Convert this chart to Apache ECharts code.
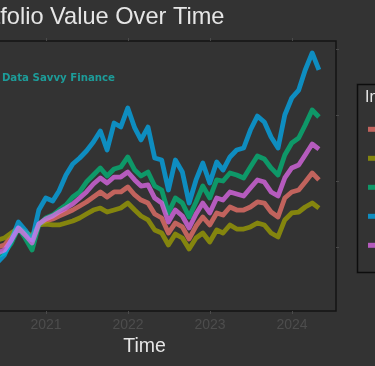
<!DOCTYPE html>
<html><head><meta charset="utf-8">
<script src="https://cdn.jsdelivr.net/npm/echarts@6/dist/echarts.min.js"></script>
<style>
html,body{margin:0;padding:0;background:#333333;overflow:hidden;width:375px;height:366px}
#wrap{position:absolute;left:0;top:0;width:375px;height:366px;overflow:hidden;background:#333333}
#chart{position:absolute;left:-100px;top:0;width:600px;height:366px}
</style>
</head><body><div id="wrap"><div id="chart"></div></div>
<script>
// Month-end observations, 2020-01 .. 2024-04
const months = [
 '2020-01','2020-02','2020-03','2020-04','2020-05','2020-06','2020-07','2020-08','2020-09','2020-10','2020-11','2020-12',
 '2021-01','2021-02','2021-03','2021-04','2021-05','2021-06','2021-07','2021-08','2021-09','2021-10','2021-11','2021-12',
 '2022-01','2022-02','2022-03','2022-04','2022-05','2022-06','2022-07','2022-08','2022-09','2022-10','2022-11','2022-12',
 '2023-01','2023-02','2023-03','2023-04','2023-05','2023-06','2023-07','2023-08','2023-09','2023-10','2023-11','2023-12',
 '2024-01','2024-02','2024-03','2024-04'
];
const seriesNames = ['Balanced','Conservative','Growth','Innovation','Moderate Growth'];
const balanced = [10000,9300,8100,9200,10000,10150,10760,11440,10980,10530,11740,11970,12120,12350,12580,12800,13110,13410,13790,14170,13790,14170,14170,14550,13940,13560,13330,12500,12200,11060,11820,11520,10610,11590,12270,11670,12580,12420,13030,12800,12800,13030,13410,13330,12650,12270,13710,14170,14320,14920,15610,15080];
const conservative = [10000,9600,8900,9900,10530,10680,11060,11440,11140,10830,11670,11740,11670,11670,11820,11970,12200,12500,12800,12950,12650,12800,12950,13330,12800,12350,12050,11290,11060,10150,10980,10680,9850,10680,11060,10380,11290,11060,11670,11360,11360,11520,11820,11670,11060,10760,12050,12580,12650,13030,13330,12950];
const growth = [10000,8900,6900,8300,9320,9550,10300,11440,10680,9770,11670,12200,12420,12800,13180,13790,14170,14920,15450,15990,15380,15910,16060,16820,15830,15380,15680,14620,14320,12580,13710,13330,12270,13410,14620,13710,15080,15000,15610,15450,15230,16060,16890,16670,15990,15450,16970,17880,18260,19240,20380,19850];
const innovation = [10000,8700,6100,7800,8860,9390,10530,11890,11290,10530,12800,13710,13490,14240,15450,16290,16740,17270,17950,18790,17350,19390,19090,20530,19020,18110,19090,16740,16590,14320,16590,15680,13330,15080,16360,14850,16440,15830,16820,17350,17500,18860,19920,19470,18330,17500,20000,21290,21890,23410,24700,23410];
const moderateGrowth = [10000,9100,7500,8700,9550,9770,10530,11440,10910,10300,11740,12120,12350,12650,12950,13260,13710,14170,14770,15230,14850,15300,15300,15680,15080,14620,14700,13710,13330,11890,12800,12350,11440,12500,13330,12580,13710,13560,14170,14020,13860,14470,15080,14920,14170,13860,15230,15990,16210,16970,17800,17420];
const xTickYears = [2021, 2022, 2023, 2024];
const yTickValues = [10000, 15000, 20000, 25000];
const colors = ['#F8766D','#A3A500','#00BF7D','#00B0F6','#E76BF3'];

const monthEnd = s => { const p = s.split('-'); return Date.UTC(+p[0], +p[1], 0); };
const xs = months.map(monthEnd);
const allValues = [balanced, conservative, growth, innovation, moderateGrowth];
const xTicks = xTickYears.map(y => Date.UTC(y, 0, 1));
const xMin = Date.UTC(2019, 10, 14), xMax = Date.UTC(2024, 6, 15);
const yMin = 5152, yMax = 25606;

const chart = echarts.init(document.getElementById('chart'), null, {renderer: 'canvas'});
const FONT = 'Liberation Sans, Arial, sans-serif';
chart.setOption({
  animation: false,
  backgroundColor: '#333333',
  title: {
    text: 'Portfolio Value Over Time', left: 57, top: 5, padding: 0,
    textStyle: {color: '#e6e6e6', fontSize: 23.6, fontWeight: 'normal', fontFamily: FONT}
  },
  grid: {left: 53, top: 41, width: 383, height: 270, show: true, borderColor: '#141414', borderWidth: 1.5, backgroundColor: 'transparent'},
  legend: {
    orient: 'vertical', left: 468, top: 120.3, padding: 0, itemGap: 11,
    icon: 'rect', itemWidth: 17, itemHeight: 5,
    data: seriesNames,
    itemStyle: {opacity: 0.72},
    textStyle: {color: '#e6e6e6', fontSize: 14, lineHeight: 18, fontFamily: FONT}
  },
  xAxis: [{
    type: 'value', min: xMin, max: xMax, position: 'bottom',
    axisLine: {show: false}, splitLine: {show: false},
    axisTick: {show: true, customValues: xTicks, length: 3, lineStyle: {color: '#4a4a4a', width: 1}},
    axisLabel: {customValues: xTicks, formatter: v => String(new Date(v).getUTCFullYear()), color: '#4d4d4d', fontSize: 14, margin: 7, fontFamily: FONT},
    name: 'Time', nameLocation: 'middle', nameGap: 25,
    nameTextStyle: {color: '#e6e6e6', fontSize: 19.5, fontFamily: FONT}
  }, {
    type: 'value', min: xMin, max: xMax, position: 'top',
    axisLine: {show: false}, splitLine: {show: false},
    axisTick: {show: true, customValues: xTicks, length: 3, lineStyle: {color: '#4a4a4a', width: 1}},
    axisLabel: {show: false}
  }],
  yAxis: [{
    type: 'value', min: yMin, max: yMax, position: 'left',
    axisLine: {show: false}, splitLine: {show: false}, axisTick: {show: false}, axisLabel: {show: false}
  }, {
    type: 'value', min: yMin, max: yMax, position: 'right',
    axisLine: {show: false}, splitLine: {show: false},
    axisTick: {show: true, customValues: yTickValues, length: 3, lineStyle: {color: '#4a4a4a', width: 1}},
    axisLabel: {show: false}
  }],
  series: seriesNames.map((n, i) => ({
    name: n, type: 'line', xAxisIndex: 0, yAxisIndex: 0,
    data: xs.map((x, j) => [x, allValues[i][j]]),
    showSymbol: false, symbol: 'none', color: colors[i],
    itemStyle: {color: colors[i], opacity: 0.72},
    lineStyle: {width: 4.8, opacity: 0.72, join: 'round', cap: 'butt'},
    emphasis: {disabled: true}, z: 2 + i
  })),
  graphic: [
    {type: 'rect', left: 455, top: 82, z: 10, silent: true,
     shape: {width: 200, height: 188}, style: {fill: 'none', stroke: '#0d0d0d', lineWidth: 1.5}},
    {type: 'text', x: 465, y: 97.5, z: 10, silent: true,
     style: {text: 'Investment Strategy', fill: '#e6e6e6', fontSize: 16, fontFamily: FONT, textVerticalAlign: 'middle'}},
    {type: 'text', x: 215, y: 78, z: 10, silent: true,
     style: {text: '© Data Savvy Finance', fill: '#1d9c99', fontSize: 10.2, fontWeight: 'bold', fontFamily: 'DejaVu Sans', textAlign: 'right', textVerticalAlign: 'middle'}}
  ]
});
</script>
</body></html>
